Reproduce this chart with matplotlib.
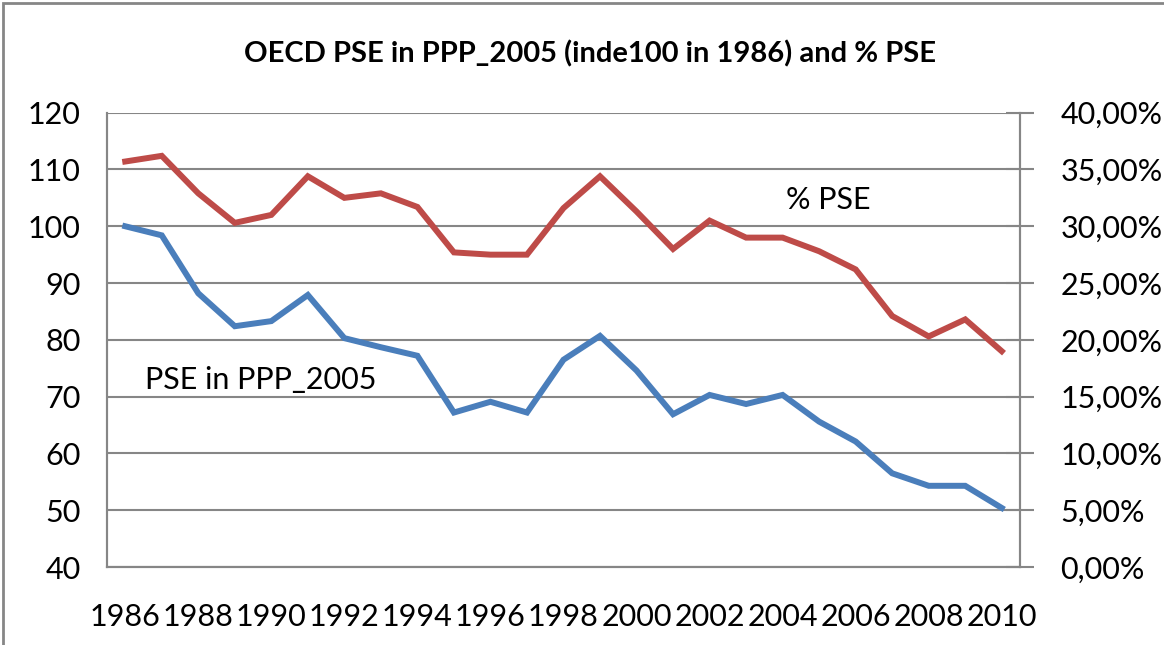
import matplotlib.pyplot as plt
from matplotlib.patches import Rectangle

plt.rcParams['font.family'] = ['Lato', 'DejaVu Sans']

years = list(range(1986, 2011))
pse_ppp = [100, 98.4, 88.2, 82.4, 83.3, 87.9, 80.3, 78.7, 77.2, 67.2, 69.1, 67.2,
           76.5, 80.7, 74.6, 66.9, 70.3, 68.7, 70.3, 65.6, 62.1, 56.5, 54.3, 54.3, 50.4]
pse_pct = [35.7, 36.2, 32.9, 30.3, 31.0, 34.4, 32.5, 32.9, 31.7, 27.7, 27.5, 27.5,
           31.6, 34.4, 31.3, 28.0, 30.5, 29.0, 29.0, 27.8, 26.2, 22.1, 20.3, 21.8, 19.0]
left_ticks = [40, 50, 60, 70, 80, 90, 100, 110, 120]
right_ticks = [0, 5, 10, 15, 20, 25, 30, 35, 40]

grey = '#868686'
fig = plt.figure(figsize=(11.64, 6.45), dpi=100)
ax = fig.add_axes([0.0919, 0.1209, 0.7844, 0.7044])
ax2 = ax.twinx()

x = list(range(len(years)))
ax.plot(x, pse_ppp, color='#4A7EBB', lw=4.3, solid_joinstyle='miter', zorder=3)
ax2.plot(x, pse_pct, color='#BE4B48', lw=4.3, solid_joinstyle='miter', zorder=3)

ax.set_xlim(-0.5, len(years) - 0.5)
ax.set_ylim(40, 120)
ax2.set_ylim(0, 40)
ax.set_yticks(left_ticks)
ax2.set_yticks(right_ticks)
ax2.set_yticklabels(['{:.2f}%'.format(v).replace('.', ',') for v in right_ticks])
ax.set_xticks(x[::2])
ax.set_xticklabels([str(y) for y in years[::2]])

ax.grid(axis='y', color=grey, lw=1.5)
ax.set_axisbelow(True)
for a in (ax, ax2):
    for s in a.spines.values():
        s.set_color(grey)
        s.set_linewidth(1.5)
    a.spines['top'].set_visible(False)
    a.tick_params(colors=grey, labelcolor='black', labelsize=22, width=1.5)
ax.tick_params(axis='x', length=0, pad=26)
ax.tick_params(axis='y', length=0, pad=19)
ax2.tick_params(axis='y', direction='inout', length=20, pad=19)

ax.text(0.54, 73, 'PSE in PPP_2005', fontsize=22, va='center', ha='left')
ax2.text(19.25, 32.3, '% PSE', fontsize=22, va='center', ha='center')

fig.text(0.507, 0.916, 'OECD PSE in PPP_2005 (inde100 in 1986) and % PSE',
         fontsize=21, fontweight='bold', ha='center', va='center')
fig.patches.append(Rectangle((0.003, -0.01), 1.0, 1.005, transform=fig.transFigure,
                             fill=False, edgecolor=grey, lw=2))

fig.savefig('out.png', dpi=100)
